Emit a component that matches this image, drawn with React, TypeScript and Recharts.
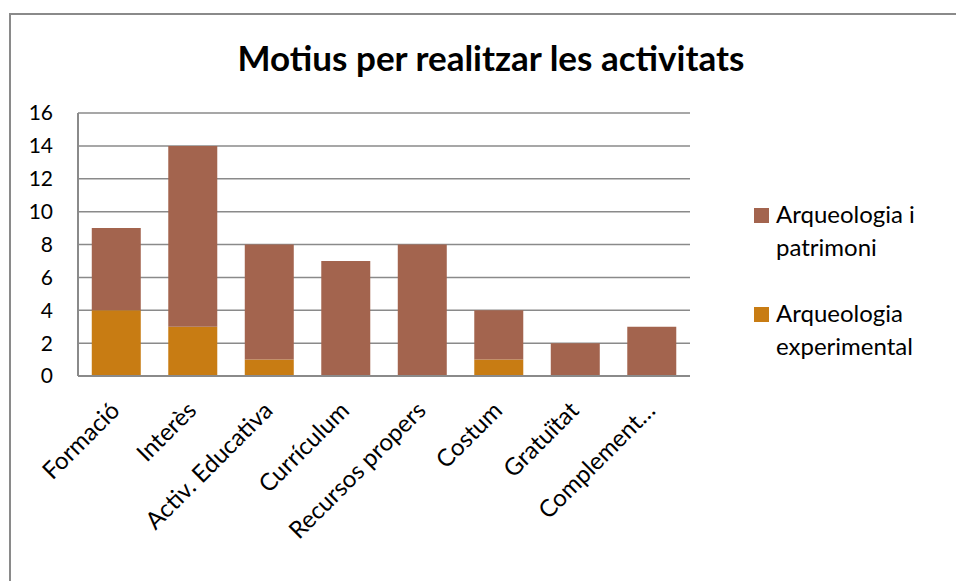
import { BarChart, Bar, XAxis, YAxis, CartesianGrid } from 'recharts';

const categories = ['Formació', 'Interès', 'Activ. Educativa', 'Currículum', 'Recursos propers', 'Costum', 'Gratuïtat', 'Complement…'];
const experimental = [4, 3, 1, 0, 0, 1, 0, 0];
const patrimoni = [5, 11, 7, 7, 8, 3, 2, 3];
const yTicks = [0, 2, 4, 6, 8, 10, 12, 14, 16];

const data = categories.map((name, i) => ({
  name,
  experimental: experimental[i],
  patrimoni: patrimoni[i],
}));

const FONT = 'Lato, "Open Sans", sans-serif';
const BROWN = '#A3644E';
const ORANGE = '#C87C13';

// rotated category label, anchored at the end of its baseline
const XTick = (props: any) => {
  const { x, y, payload } = props;
  const px = x + 5;
  const py = y + 36;
  return (
    <text
      x={px}
      y={py}
      textAnchor="end"
      fontSize={24}
      fontFamily={FONT}
      fill="#000"
      transform={`rotate(-45, ${px}, ${py})`}
    >
      {payload.value}
    </text>
  );
};

const LegendItem = ({ color, lines, top }: { color: string; lines: string[]; top: number }) => (
  <div style={{ position: 'absolute', left: 754, top, display: 'flex', fontFamily: FONT, fontSize: 24, lineHeight: '33px' }}>
    <div style={{ width: 15, height: 15, background: color, marginTop: 11, marginRight: 7 }} />
    <div>
      {lines.map((l) => (
        <div key={l}>{l}</div>
      ))}
    </div>
  </div>
);

export default function App() {
  return (
    <div style={{ position: 'absolute', left: 0, top: 0, width: 956, height: 581, background: '#fff', overflow: 'hidden' }}>
      <div style={{ position: 'absolute', left: 9, top: 13, width: 1000, height: 1000, borderLeft: '2px solid #8a8a8a', borderTop: '2px solid #8a8a8a' }} />
      <div style={{ position: 'absolute', left: 0, top: 36, width: 982, textAlign: 'center', fontFamily: FONT, fontWeight: 'bold', fontSize: 35, lineHeight: 1.2 }}>
        Motius per realitzar les activitats
      </div>
      <div style={{ position: 'absolute', left: 0, top: 0 }}>
        <BarChart
          width={956}
          height={581}
          data={data}
          margin={{ top: 113, right: 266, left: 18, bottom: 195 }}
          barCategoryGap="18%"
        >
          <CartesianGrid vertical={false} stroke="#8a8a8a" strokeWidth={1.5} />
          <XAxis
            dataKey="name"
            interval={0}
            tickLine={false}
            tickSize={0}
            tickMargin={0}
            axisLine={{ stroke: '#8a8a8a', strokeWidth: 2 }}
            tick={<XTick />}
            height={10}
          />
          <YAxis
            width={60}
            domain={[0, 16]}
            ticks={yTicks}
            tickLine={false}
            tickSize={0}
            tickMargin={25}
            axisLine={{ stroke: '#8a8a8a', strokeWidth: 2 }}
            tick={{ fontSize: 21, fontFamily: FONT, fill: '#000' }}
          />
          <Bar dataKey="experimental" stackId="a" fill={ORANGE} isAnimationActive={false} />
          <Bar dataKey="patrimoni" stackId="a" fill={BROWN} isAnimationActive={false} />
        </BarChart>
      </div>
      <LegendItem color={BROWN} lines={['Arqueologia i', 'patrimoni']} top={197} />
      <LegendItem color={ORANGE} lines={['Arqueologia', 'experimental']} top={296} />
    </div>
  );
}
